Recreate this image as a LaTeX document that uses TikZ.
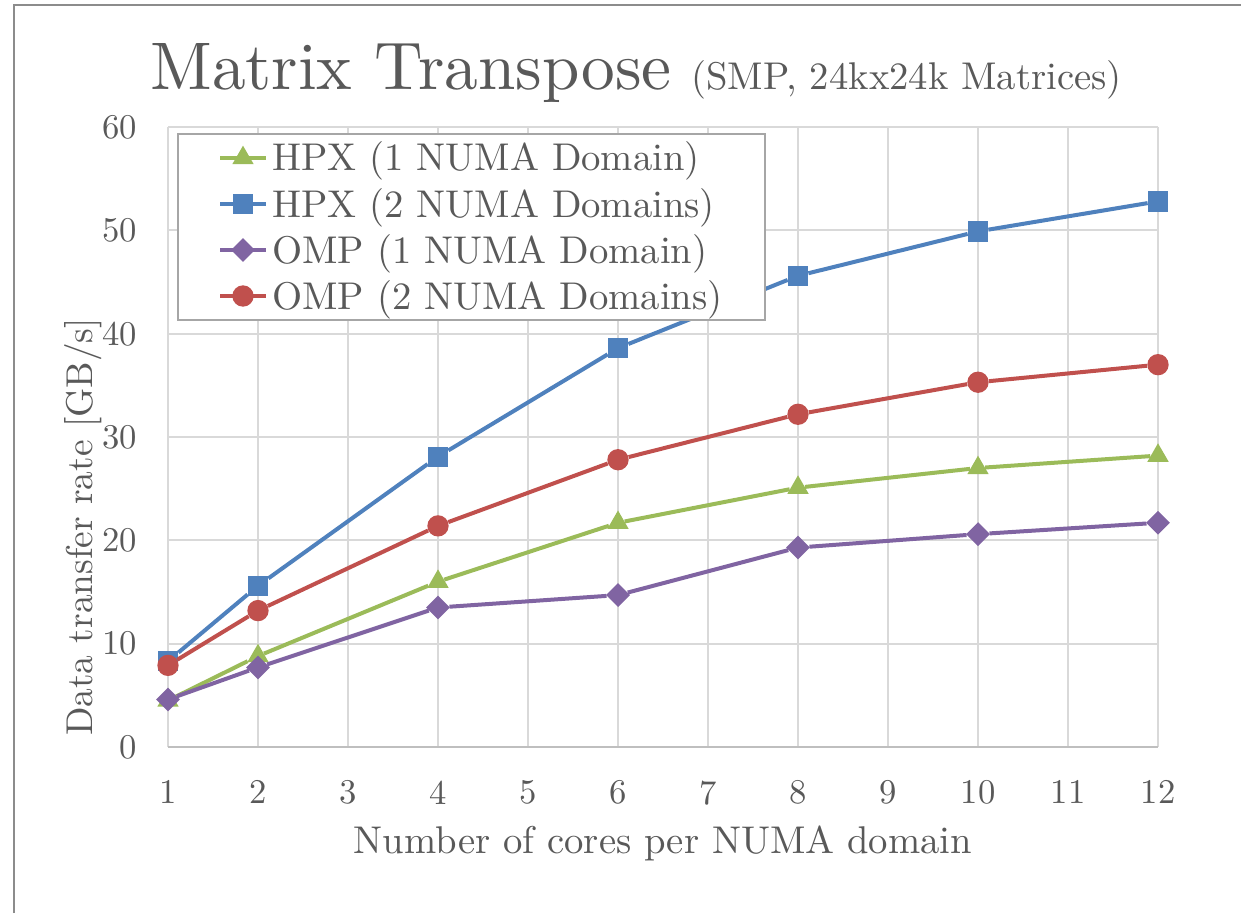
\documentclass[tikz,border=0pt]{standalone}
\usepackage{fontspec}
\setmainfont{lmroman10-regular.otf}
\usepackage{tikz}
\usetikzlibrary{positioning,shapes.geometric}
\definecolor{hpxone}{HTML}{9BBB59}
\definecolor{hpxtwo}{HTML}{4F81BD}
\definecolor{ompone}{HTML}{8064A2}
\definecolor{omptwo}{HTML}{C0504D}
\definecolor{textgray}{HTML}{595959}
\definecolor{gridgray}{HTML}{D9D9D9}
\definecolor{axisgray}{HTML}{BFBFBF}
\definecolor{framegray}{HTML}{8C8C8C}
\definecolor{leggray}{HTML}{A6A6A6}

\begin{document}
\begin{tikzpicture}[x=0.75pt,y=-0.75pt,
  txt/.style={text=textgray,inner sep=0pt},
  big/.style={txt,font=\fontsize{50.5}{60}\selectfont},
  sub/.style={txt,font=\fontsize{29}{35}\selectfont},
  lab/.style={txt,font=\fontsize{29}{35}\selectfont},
  tick/.style={txt,font=\fontsize{26}{31}\selectfont},
  grid/.style={draw=gridgray,line width=1.3pt},
  ser/.style={line width=3pt},
  tri/.style={regular polygon,regular polygon sides=3,fill=hpxone,
    minimum size=18.5pt,inner sep=0pt},
  sq/.style={rectangle,fill=hpxtwo,minimum size=15.2pt,inner sep=0pt},
  dia/.style={diamond,aspect=1,fill=ompone,minimum size=18pt,inner sep=0pt},
  dot/.style={circle,fill=omptwo,minimum size=16pt,inner sep=0pt}
]
  \useasboundingbox (0,0) rectangle (1241,913);
  \draw[framegray,line width=1.5pt] (14,913) -- (14,5) -- (1241,5);

  \node[big,anchor=base west] (title) at (150,90) {Matrix Transpose};
  \node[sub,anchor=base east] (subtitle) at (1122,90) {(SMP, 24kx24k Matrices)};

  \begin{scope}[shift={(78,747)},x=67.5pt,y=7.75pt]
    \foreach \v in {10,20,...,60} \draw[grid] (1,\v) -- (12,\v);
    \foreach \c in {1,...,12} \draw[grid] (\c,0) -- (\c,60);
    \draw[axisgray,line width=1.5pt] (1,0) -- (12,0);
    \foreach \v in {0,10,...,60} \node[tick,left=23pt] (yt\v) at (1,\v) {\v};
    \foreach \c in {1,...,12} \node[tick,below=25pt] (xt\c) at (\c,0) {\c};

    \foreach \c/\v in {1/4.5,2/8.8,4/16.0,6/21.7,8/25.1,10/27.0,12/28.2}
      \node[tri] (hpa\c) at (\c,\v) {};
    \draw[ser,hpxone] (hpa1) -- (hpa2) -- (hpa4) -- (hpa6) -- (hpa8) -- (hpa10) -- (hpa12);

    \foreach \c/\v in {1/8.3,2/15.6,4/28.1,6/38.6,8/45.6,10/49.9,12/52.8}
      \node[sq] (hpb\c) at (\c,\v) {};
    \draw[ser,hpxtwo] (hpb1) -- (hpb2) -- (hpb4) -- (hpb6) -- (hpb8) -- (hpb10) -- (hpb12);

    \foreach \c/\v in {1/4.6,2/7.7,4/13.5,6/14.7,8/19.3,10/20.6,12/21.7}
      \node[dia] (oma\c) at (\c,\v) {};
    \draw[ser,ompone] (oma1) -- (oma2) -- (oma4) -- (oma6) -- (oma8) -- (oma10) -- (oma12);

    \foreach \c/\v in {1/7.9,2/13.2,4/21.4,6/27.8,8/32.2,10/35.3,12/37.0}
      \node[dot] (omb\c) at (\c,\v) {};
    \draw[ser,omptwo] (omb1) -- (omb2) -- (omb4) -- (omb6) -- (omb8) -- (omb10) -- (omb12);
  \end{scope}

  \node[lab,rotate=90,anchor=base,font=\fontsize{28}{34}\selectfont] (ylabel) at (92,527) {Data transfer rate [GB/s]};
  \node[lab,anchor=base] (xlabel) at (663,853) {Number of cores per NUMA domain};

  \draw[draw=leggray,fill=white,line width=1.4pt] (178,134) rectangle (765,320);
  \foreach \y/\mk/\col/\name [count=\i] in {158/tri/hpxone/HPX (1 NUMA Domain),
      204/sq/hpxtwo/HPX (2 NUMA Domains),250/dia/ompone/OMP (1 NUMA Domain),
      296/dot/omptwo/OMP (2 NUMA Domains)} {
    \draw[ser,\col] (220,\y) -- (266,\y);
    \node[\mk] (lm\i) at (243,\y) {};
    \node[lab,anchor=base west] (lt\i) at (272,\y+13) {\name};
  }
\end{tikzpicture}
\end{document}
